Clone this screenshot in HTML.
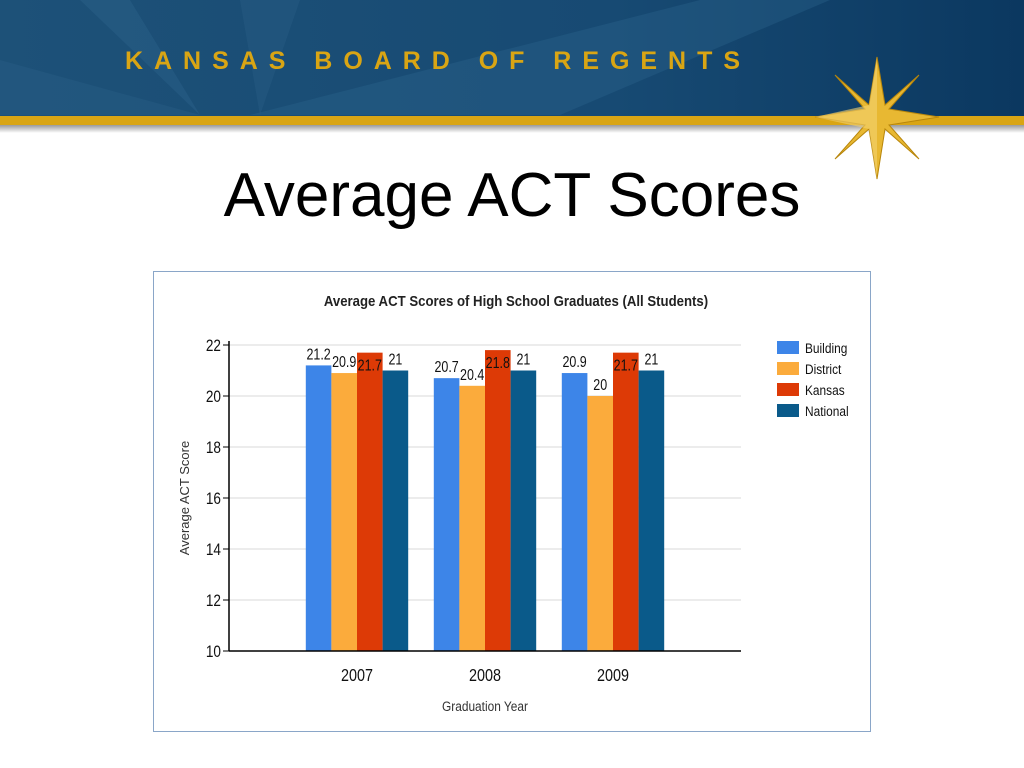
<!DOCTYPE html>
<html><head><meta charset="utf-8"><style>
body{margin:0;width:1024px;height:768px;overflow:hidden;background:#fff;font-family:"Liberation Sans",sans-serif;position:relative}
</style></head><body>
<svg width="1024" height="768" style="position:absolute;left:0;top:0">
<defs>
<linearGradient id="hdr" x1="0" x2="1" y1="0" y2="0"><stop offset="0" stop-color="#1d5178"/><stop offset="0.6" stop-color="#174a73"/><stop offset="1" stop-color="#0b3860"/></linearGradient>
<linearGradient id="sh" x1="0" x2="0" y1="0" y2="1"><stop offset="0" stop-color="#999"/><stop offset="1" stop-color="#fff"/></linearGradient>
</defs>
<g>
<rect x="0" y="0" width="1024" height="118" fill="url(#hdr)"/>
<polygon points="130,0 200,115 80,0" fill="#2a6088" opacity="0.5"/>
<polygon points="300,0 260,115 240,0" fill="#2a6088" opacity="0.4"/>
<polygon points="830,0 560,115 250,115 700,0" fill="#2d6890" opacity="0.35"/>
<polygon points="0,60 200,115 0,115" fill="#2a6088" opacity="0.4"/>
<rect x="0" y="116" width="1024" height="9" fill="#d9a514"/>
<rect x="0" y="125" width="1024" height="8" fill="url(#sh)"/>
<text x="125" y="69" font-family="Liberation Sans Narrow,Liberation Sans,sans-serif" font-weight="bold" font-size="25" fill="#d9a514" textLength="615" lengthAdjust="spacing">KANSAS BOARD OF REGENTS</text>
<g transform="translate(877,117)">
<polygon points="0,-60 8,-12 42,-42 12,-8 62,0 12,8 42,42 8,12 0,62 -8,12 -42,42 -12,8 -62,0 -12,-8 -42,-42 -8,-12" fill="#e8b832" stroke="#b8860b" stroke-width="1"/>
<polygon points="0,-60 0,62 -8,12 -62,0 -8,-12" fill="#f4d270" opacity="0.6"/>
</g>
</g>
<text x="512" y="216" text-anchor="middle" font-size="62" fill="#000">Average ACT Scores</text>
<rect x="153.5" y="271.5" width="717" height="460" fill="#fff" stroke="#8aa6c8"/>
<text x="516" y="306" text-anchor="middle" font-size="15" font-weight="bold" fill="#222" transform="translate(516 0) scale(0.88 1) translate(-516 0)">Average ACT Scores of High School Graduates (All Students)</text>
<g id="chart"></g>
</svg>
<script>
const categories=["2007","2008","2009"];
const seriesNames=["Building","District","Kansas","National"];
const building=[21.2,20.7,20.9];
const district=[20.9,20.4,20];
const kansas=[21.7,21.8,21.7];
const national=[21,21,21];
const yTicks=[10,12,14,16,18,20,22];
const colors=["#3d85e8","#fbab3c","#dd3a06","#0a5a8a"];
const series=[building,district,kansas,national];
const NS="http://www.w3.org/2000/svg";
const g=document.getElementById('chart');
const X0=229,X1=741,Y0=651,Y1=345,ymin=10,ymax=22;
const y=v=>Y0-(v-ymin)/(ymax-ymin)*(Y0-Y1);
const step=(X1-X0)/(categories.length+1);
const cx=i=>X0+step*(i+1);
const bw=25.6;
function mk(t,a,txt){const e=document.createElementNS(NS,t);for(const k in a)e.setAttribute(k,a[k]);if(txt!=null)e.textContent=txt;g.appendChild(e);return e;}
yTicks.forEach(v=>{
 if(v>ymin){const l=mk('line',{x1:X0,x2:X1,y1:y(v),y2:y(v),stroke:'#d8d8d8','stroke-width':1});
 
 }
 const tk=mk('line',{x1:X0-6,x2:X0,y1:y(v),y2:y(v),stroke:'#000'});
 
 
 const t=mk('text',{x:X0-8,y:y(v)+6,'text-anchor':'end','font-size':17,fill:'#111',transform:`translate(${X0-8} 0) scale(0.8 1) translate(${-(X0-8)} 0)`},v);
 
 
});
categories.forEach((c,i)=>{
 series.forEach((s,j)=>{
  const x=cx(i)-2*bw+j*bw;
  const r=mk('rect',{x:x,y:y(s[i]),width:bw,height:Y0-y(s[i]),fill:colors[j]});
  
  
  const ly=j==2?y(s[i])+18:y(s[i])-6;
  const t=mk('text',{x:x+bw/2,y:ly,'text-anchor':'middle','font-size':16,fill:'#111',transform:`translate(${x+bw/2} 0) scale(0.78 1) translate(${-(x+bw/2)} 0)`},s[i]);
  
  
 });
 const t=mk('text',{x:cx(i),y:Y0+30,'text-anchor':'middle','font-size':18,fill:'#111',transform:`translate(${cx(i)} 0) scale(0.8 1) translate(${-cx(i)} 0)`},c);
 
 
});
const xa=mk('line',{x1:X0,x2:X1,y1:Y0,y2:Y0,stroke:'#000','stroke-width':1.5});


const ya=mk('line',{x1:X0,x2:X0,y1:Y1-4,y2:Y0,stroke:'#000','stroke-width':1.5});


const xt=mk('text',{x:485,y:711,'text-anchor':'middle','font-size':14,fill:'#333',transform:'translate(485 0) scale(0.85 1) translate(-485 0)'},'Graduation Year');


const yt=mk('text',{x:0,y:0,'text-anchor':'middle','font-size':13,fill:'#333',transform:'translate(189 498) rotate(-90)'},'Average ACT Score');


seriesNames.forEach((n,j)=>{
 const r=mk('rect',{x:777,y:341+j*21,width:22,height:13,fill:colors[j]});
 
 
 const t=mk('text',{x:805,y:353+j*21,'font-size':14,fill:'#111',transform:'translate(805 0) scale(0.85 1) translate(-805 0)'},n);
 
 
});
</script>
</body></html>
